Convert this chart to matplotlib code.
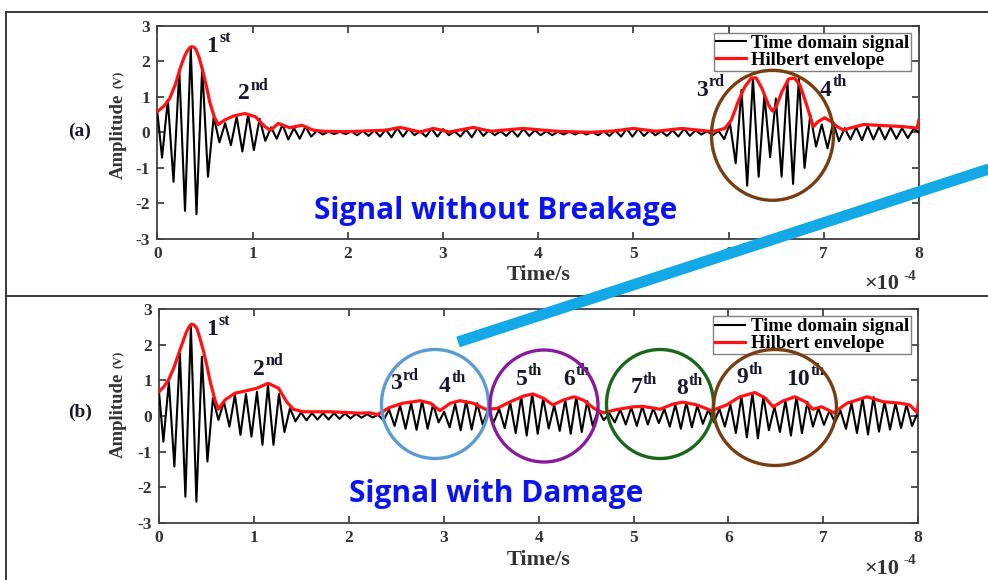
import numpy as np
import matplotlib
matplotlib.use("Agg")
import matplotlib.pyplot as plt
from matplotlib.patches import Ellipse

plt.rcParams['font.family'] = ['Liberation Serif', 'DejaVu Serif']
plt.rcParams['font.weight'] = 'bold'
plt.rcParams['axes.unicode_minus'] = False

# time axis is in units of 1e-4 s
# (a) extrema of the time domain signal, one trough + one peak per cycle
a_t0, a_period = 0.05, 0.1205
a_start, a_end = 0.58, 0.0
a_troughs = [-0.71, -1.39, -2.21, -2.30, -1.25, -0.28, -0.36, -0.54, -0.50, -0.24,
             -0.18, -0.20, -0.18, -0.12, -0.06, -0.05, -0.05, -0.08, -0.10, -0.12,
             -0.14, -0.12, -0.08, -0.12, -0.12, -0.08, -0.12, -0.14, -0.10, -0.08,
             -0.10, -0.12, -0.10, -0.08, -0.08, -0.06, -0.06, -0.06, -0.08, -0.10,
             -0.12, -0.12, -0.10, -0.08, -0.10, -0.12, -0.10, -0.06, -0.08, -0.19,
             -0.87, -1.50, -1.25, -0.70, -1.25, -1.45, -1.00, -0.40, -0.45, -0.25,
             -0.20, -0.22, -0.20, -0.20, -0.18, -0.16]
a_peaks = [0.91, 1.75, 2.38, 1.84, 0.44, 0.26, 0.44, 0.50, 0.38, 0.14,
           0.22, 0.12, 0.16, 0.05, 0.02, 0.02, 0.03, 0.04, 0.06, 0.08,
           0.12, 0.10, 0.03, 0.10, 0.09, 0.03, 0.08, 0.12, 0.06, 0.03,
           0.06, 0.10, 0.06, 0.03, 0.02, 0.02, 0.01, 0.01, 0.03, 0.06,
           0.10, 0.10, 0.05, 0.03, 0.06, 0.10, 0.06, 0.03, 0.04, 0.25,
           1.19, 1.52, 1.05, 0.95, 1.45, 1.52, 0.50, 0.22, 0.28, 0.12,
           0.15, 0.18, 0.16, 0.14, 0.12, 0.10]
# (a) Hilbert envelope
a_env_t = [0.0, 0.07, 0.13, 0.19, 0.24, 0.28, 0.31, 0.34, 0.36, 0.39, 0.41, 0.44, 0.48,
           0.52, 0.55, 0.60, 0.64, 0.71,
           0.80, 0.92, 1.03, 1.13, 1.19, 1.27, 1.39, 1.52, 1.64, 1.75,
           2.0, 2.2, 2.4, 2.55, 2.76, 2.9, 3.07, 3.32, 3.5, 3.84,
           4.2, 4.55, 4.8, 5.0, 5.24, 5.51, 5.8, 5.86, 5.96, 6.03,
           6.10, 6.17, 6.24, 6.29, 6.35, 6.42, 6.46, 6.50, 6.56, 6.63,
           6.69, 6.75, 6.82, 6.89, 6.94, 7.01, 7.08, 7.14, 7.21, 7.26,
           7.42, 7.56, 7.70, 7.84, 7.98, 8.0]
a_env_v = [0.58, 0.74, 0.95, 1.35, 1.80, 2.10, 2.27, 2.38, 2.41, 2.39, 2.31, 2.10, 1.70,
           1.25, 0.86, 0.42, 0.22, 0.35,
           0.46, 0.53, 0.44, 0.16, 0.06, 0.25, 0.13, 0.20, 0.06, 0.03,
           0.02, 0.04, 0.06, 0.14, 0.01, 0.11, 0.01, 0.14, 0.03, 0.11,
           0.03, 0.00, 0.04, 0.11, 0.03, 0.11, 0.03, 0.04, 0.11, 0.35,
           0.86, 1.28, 1.53, 1.53, 1.24, 0.77, 0.60, 0.72, 1.14, 1.50,
           1.53, 1.33, 0.77, 0.16, 0.30, 0.41, 0.30, 0.16, 0.06, 0.11,
           0.22, 0.20, 0.18, 0.16, 0.12, 0.35]
a_ord = [("1", "st"), ("2", "nd"), ("3", "rd"), ("4", "th")]
a_ord_x = [0.58, 0.91, 5.72, 7.02]
a_ord_y = [2.42, 1.08, 1.19, 1.19]

# (b)
b_t0, b_period = 0.046, 0.116
b_start, b_end = 0.68, 0.0
b_troughs = [-0.72, -1.42, -2.27, -2.41, -1.28, -0.11, -0.30, -0.53, -0.58, -0.81,
             -0.81, -0.45, -0.15, -0.12, -0.10, -0.10, -0.08, -0.07, -0.05, -0.04,
             -0.12, -0.28, -0.36, -0.39, -0.36, -0.18, -0.32, -0.40, -0.38, -0.24,
             -0.18, -0.34, -0.48, -0.55, -0.50, -0.35, -0.42, -0.50, -0.45, -0.28,
             -0.12, -0.18, -0.24, -0.28, -0.24, -0.20, -0.30, -0.36, -0.32, -0.22,
             -0.18, -0.30, -0.48, -0.60, -0.63, -0.40, -0.45, -0.55, -0.48, -0.30,
             -0.25, -0.18, -0.36, -0.48, -0.52, -0.44, -0.38, -0.34, -0.28]
b_peaks = [0.96, 1.76, 2.53, 1.67, 0.50, 0.40, 0.59, 0.62, 0.68, 0.87,
           0.62, 0.22, 0.10, 0.08, 0.08, 0.08, 0.07, 0.06, 0.05, 0.03,
           0.18, 0.30, 0.36, 0.42, 0.33, 0.12, 0.34, 0.42, 0.36, 0.18,
           0.20, 0.38, 0.54, 0.62, 0.50, 0.30, 0.45, 0.54, 0.42, 0.18,
           0.08, 0.18, 0.24, 0.27, 0.22, 0.20, 0.32, 0.38, 0.30, 0.18,
           0.20, 0.32, 0.54, 0.64, 0.55, 0.26, 0.43, 0.54, 0.40, 0.22,
           0.15, 0.15, 0.36, 0.50, 0.53, 0.40, 0.36, 0.32, 0.08]
b_env_t = [0.0, 0.05, 0.10, 0.16, 0.22, 0.26, 0.29, 0.32, 0.34, 0.37, 0.40, 0.43, 0.47,
           0.51, 0.54, 0.59, 0.625, 0.695,
           0.80, 0.92, 1.03, 1.15, 1.26, 1.345, 1.415, 1.52, 1.80, 2.12,
           2.22, 2.30, 2.43, 2.57, 2.75, 2.86, 2.96, 3.07, 3.17, 3.31,
           3.44, 3.56, 3.70, 3.84, 3.94, 4.05, 4.15, 4.26, 4.37, 4.47,
           4.58, 4.68, 4.82, 5.0, 5.10, 5.28, 5.42, 5.52, 5.67, 5.82,
           5.98, 6.12, 6.28, 6.39, 6.47, 6.58, 6.70, 6.81, 6.89, 6.98,
           7.11, 7.25, 7.46, 7.63, 7.81, 7.91, 7.99, 8.0]
b_env_v = [0.68, 0.82, 1.01, 1.38, 1.85, 2.15, 2.37, 2.52, 2.58, 2.56, 2.46, 2.20, 1.81,
           1.35, 0.96, 0.45, 0.19, 0.45,
           0.64, 0.71, 0.78, 0.92, 0.78, 0.40, 0.19, 0.12, 0.12, 0.08,
           0.09, 0.04, 0.24, 0.36, 0.43, 0.36, 0.15, 0.36, 0.43, 0.36,
           0.19, 0.21, 0.40, 0.56, 0.62, 0.50, 0.31, 0.45, 0.54, 0.45,
           0.22, 0.09, 0.18, 0.26, 0.27, 0.19, 0.34, 0.39, 0.31, 0.15,
           0.31, 0.54, 0.66, 0.50, 0.26, 0.43, 0.54, 0.40, 0.19, 0.26,
           0.09, 0.36, 0.54, 0.40, 0.36, 0.31, 0.09, 0.36]
b_ord = [("1", "st"), ("2", "nd"), ("3", "rd"), ("4", "th"), ("5", "th"),
         ("6", "th"), ("7", "th"), ("8", "th"), ("9", "th"), ("10", "th")]
b_ord_x = [0.56, 1.05, 2.50, 3.01, 3.82, 4.32, 5.03, 5.51, 6.14, 6.73]
b_ord_y = [2.44, 1.32, 0.90, 0.84, 1.04, 1.04, 0.79, 0.76, 1.07, 1.04]

ink = '#17172e'
W, H = 988, 580


def signal(t0, period, start, end, troughs, peaks):
    # trough k sits at t0 + k*period, the peak half a cycle later
    tt = t0 + period * np.arange(len(troughs))
    t = np.concatenate([[0.0], np.column_stack([tt, tt + period / 2]).ravel(), [8.0]])
    v = np.concatenate([[start], np.column_stack([troughs, peaks]).ravel(), [end]])
    return t, v


def panel(rect, sig, env_t, env_v, ords, ord_x, ord_y):
    ax = fig.add_axes(rect)
    t, v = sig
    ax.plot(t, v, color='black', lw=1.5, label='Time domain signal', zorder=3)
    ax.plot(env_t, env_v, color='#ff1212', lw=2.3, label='Hilbert envelope', zorder=4)
    ax.set_xlim(0, 8)
    ax.set_ylim(-3, 3)
    ax.set_xticks(range(0, 9))
    ax.set_yticks(range(-3, 4))
    ax.tick_params(direction='in', top=True, right=True, length=5, width=1.2,
                   labelsize=12.5, colors='#333333', pad=5)
    for s in ax.spines.values():
        s.set_color('#404040')
        s.set_linewidth(1.3)
    leg = ax.legend(loc='upper right', bbox_to_anchor=(0.99, 0.967), fontsize=13.5,
                    fancybox=False, edgecolor='#808080', framealpha=1,
                    borderpad=0.1, labelspacing=0.0, handlelength=1.6,
                    handletextpad=0.3, borderaxespad=0)
    leg.get_frame().set_linewidth(1.0)
    for num, suf, x, y in zip([o[0] for o in ords], [o[1] for o in ords], ord_x, ord_y):
        tx = ax.text(x, y, num, fontsize=17, ha='center', va='center', color=ink, zorder=6)
        ax.annotate(suf, xy=(1.0, 0.5), xycoords=tx, xytext=(0.5, 0),
                    textcoords='offset points', fontsize=11.5, ha='left',
                    va='bottom', color=ink, zorder=6)
    return ax


fig = plt.figure(figsize=(W / 100, H / 100), dpi=100)
fig.patch.set_facecolor('white')

ax_a = panel([157.3 / W, 1 - 239 / H, 761.7 / W, 213.3 / H],
             signal(a_t0, a_period, a_start, a_end, a_troughs, a_peaks),
             a_env_t, a_env_v, a_ord, a_ord_x, a_ord_y)
ax_b = panel([159 / W, 1 - 522.7 / H, 759.3 / W, 213.4 / H],
             signal(b_t0, b_period, b_start, b_end, b_troughs, b_peaks),
             b_env_t, b_env_v, b_ord, b_ord_x, b_ord_y)

# overlay in pixel coordinates for the frame, circles, arrow line and side labels
ov = fig.add_axes([0, 0, 1, 1], zorder=10)
ov.set_xlim(0, W)
ov.set_ylim(H, 0)
ov.axis('off')
ov.patch.set_alpha(0)

frame = '#3a3a3a'
ov.plot([6, W], [12, 12], color=frame, lw=1.4)
ov.plot([6, W], [296, 296], color=frame, lw=1.4)
ov.plot([6, 6], [12, H], color=frame, lw=1.4)

panels = [('(a)', 131, 136, 79, 275, 'Signal without Breakage', 211),
          ('(b)', 412, 415, 359, 560, 'Signal with Damage', 494)]
for lab, yl, ya, yv, ytime, title, ytitle in panels:
    ov.text(80, yl, lab, ha='center', va='center', fontsize=14, color=ink)
    ov.text(118, ya, 'Amplitude', rotation=90, ha='center', va='center',
            fontsize=13.5, color='#333333')
    ov.text(119, yv, '(V)', rotation=90, ha='center', va='center',
            fontsize=9, color='#333333')
    ov.text(539, ytime, 'Time/s', ha='center', va='center', fontsize=16, color='#333333')
    ov.text(864, ytime + 9, '\u00d710', ha='left', va='center', fontsize=16, color='#333333')
    ov.text(903, ytime + 1, '-4', ha='left', va='center', fontsize=11, color='#333333')
    ov.text(496, ytitle, title, ha='center', va='center', fontsize=21.5,
            color='#0a14f0', family=['Open Sans', 'DejaVu Sans'], weight='bold')

circles = [(772.5, 135.3, 61, 65, '#7a3d12'),
           (435, 404, 53.5, 54.5, '#5b9bd5'),
           (544, 406, 54, 56, '#861c9c'),
           (660, 404, 53.5, 54.5, '#196619'),
           (775, 407.5, 61.5, 58, '#7a3d12')]
for cx, cy, rx, ry, col in circles:
    ov.add_patch(Ellipse((cx, cy), 2 * rx, 2 * ry, fill=False, edgecolor=col, lw=2.4))

ov.plot([458, 992], [342, 168], color='#12a9e6', lw=8.0, solid_capstyle='butt')

fig.savefig('out.png', dpi=100)
